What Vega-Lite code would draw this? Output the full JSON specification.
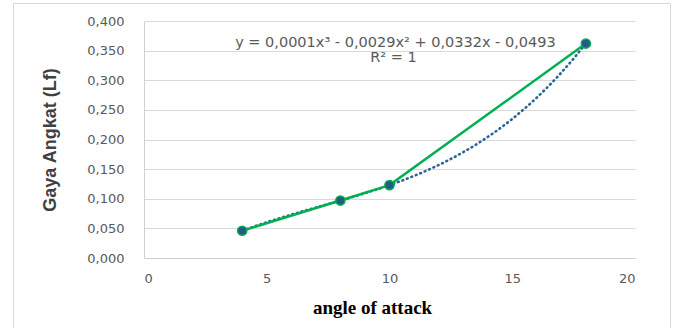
{
  "$schema": "https://vega.github.io/schema/vega-lite/v6.json",
  "width": 657,
  "height": 325,
  "autosize": {"type": "none"},
  "padding": {"left": 13, "top": 3, "right": 6, "bottom": 0},
  "background": "white",
  "config": {
    "locale": {"number": {"decimal": ",", "thousands": ".", "grouping": [3], "currency": ["", ""]}},
    "view": {"stroke": "#d9d9d9", "strokeWidth": 1},
    "axis": {
      "labelFont": "DejaVu Sans",
      "labelFontSize": 13,
      "labelColor": "#595959",
      "ticks": false,
      "domainColor": "#d0d0d0",
      "gridColor": "#d9d9d9",
      "gridWidth": 1
    }
  },
  "datasets": {
    "points": [
      {"angle": 4, "lf": 0.046},
      {"angle": 8, "lf": 0.097},
      {"angle": 10, "lf": 0.123},
      {"angle": 18, "lf": 0.362}
    ],
    "labels": [
      {"angle": 10.24, "lf": 0.3629, "label": "y = 0,0001x³ - 0,0029x² + 0,0332x - 0,0493"},
      {"angle": 10.16, "lf": 0.3376, "label": "R² = 1"}
    ]
  },
  "encoding": {
    "x": {
      "field": "angle",
      "type": "quantitative",
      "scale": {"domain": [0, 20], "range": [131, 622], "nice": false, "zero": false},
      "axis": {
        "title": "angle of attack",
        "values": [0, 5, 10, 15, 20],
        "offset": -70,
        "grid": false,
        "labelPadding": 14,
        "titleFont": "Liberation Serif",
        "titleFontSize": 19,
        "titleFontWeight": "bold",
        "titleColor": "#000000",
        "titleX": 359,
        "titleY": 55,
        "titleBaseline": "alphabetic"
      }
    },
    "y": {
      "field": "lf",
      "type": "quantitative",
      "scale": {"domain": [0, 0.4], "range": [255, 18], "nice": false},
      "axis": {
        "title": "Gaya Angkat (Lf)",
        "values": [0, 0.05, 0.1, 0.15, 0.2, 0.25, 0.3, 0.35, 0.4],
        "format": ".3f",
        "offset": -131,
        "grid": true,
        "labelPadding": 20,
        "titleFont": "Liberation Sans",
        "titleFontSize": 18,
        "titleFontWeight": "bold",
        "titleColor": "#404040",
        "titleAngle": -90,
        "titleX": -94,
        "titleY": 136.5,
        "titleBaseline": "middle",
        "titleAlign": "center"
      }
    }
  },
  "layer": [
    {
      "data": {"name": "points"},
      "transform": [{"regression": "lf", "on": "angle", "method": "poly", "order": 3}],
      "mark": {"type": "line", "color": "#2B6597", "strokeWidth": 2.6, "strokeDash": [0.8, 4], "strokeCap": "round"}
    },
    {
      "data": {"name": "points"},
      "mark": {"type": "line", "color": "#00B050", "strokeWidth": 2.5, "interpolate": "linear"}
    },
    {
      "data": {"name": "points"},
      "mark": {"type": "circle", "size": 85, "fill": "#235B87", "stroke": "#00B050", "strokeWidth": 1.5, "opacity": 1}
    },
    {
      "data": {"name": "labels"},
      "mark": {"type": "text", "font": "DejaVu Sans", "fontSize": 14.5, "color": "#595959", "align": "center", "baseline": "middle"},
      "encoding": {"text": {"field": "label"}}
    }
  ]
}
